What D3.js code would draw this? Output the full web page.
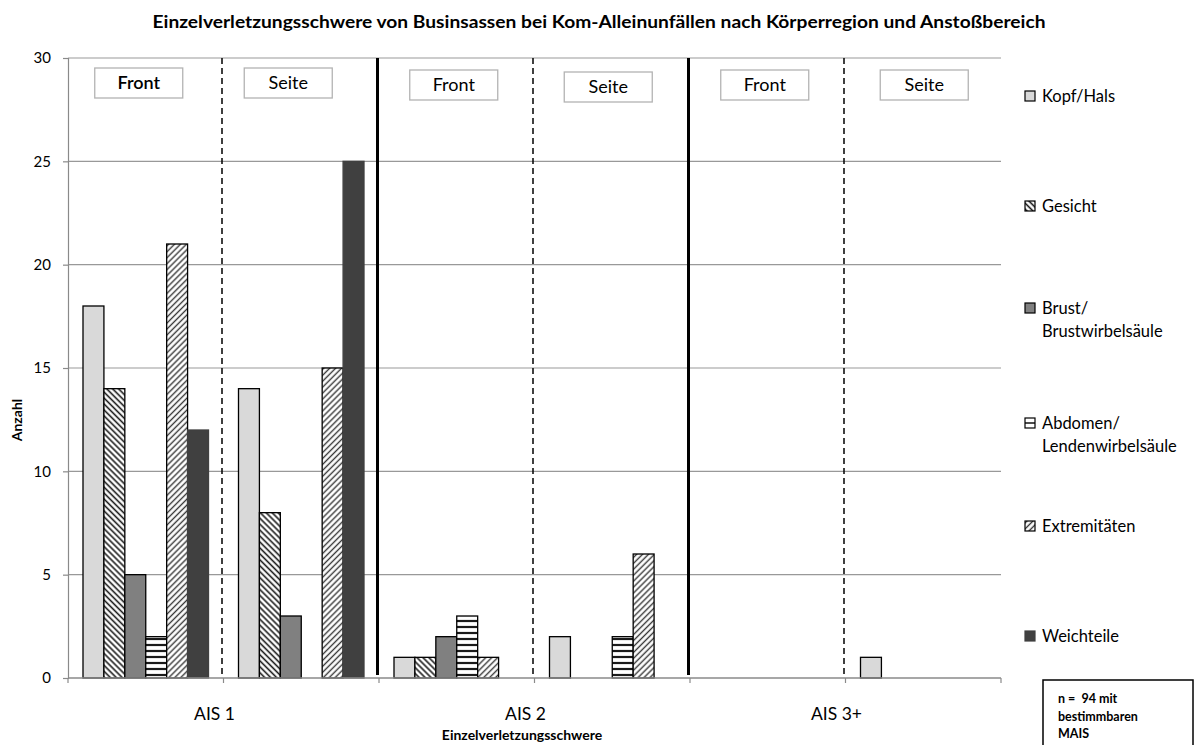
<!DOCTYPE html>
<html>
<head>
<meta charset="utf-8">
<script src="https://cdn.jsdelivr.net/npm/d3@7"></script>
<style>
  html, body { margin: 0; padding: 0; background: #fff; }
  svg { display: block; font-family: Lato, "Open Sans", "Liberation Sans", sans-serif; }
</style>
</head>
<body>
<svg id="chart" width="1198" height="745"></svg>
<script>
// Severity groups and impact areas (each group is split into Front / Seite)
const groups = ["AIS 1", "AIS 2", "AIS 3+"];
const impacts = ["Front", "Seite"];
const categories = ["AIS 1 Front", "AIS 1 Seite", "AIS 2 Front", "AIS 2 Seite", "AIS 3+ Front", "AIS 3+ Seite"];

// Body regions (series)
const seriesNames = ["Kopf/Hals", "Gesicht", "Brust/\nBrustwirbelsäule", "Abdomen/\nLendenwirbelsäule", "Extremitäten", "Weichteile"];

// Counts per category, in the order of `categories`
const kopfHals      = [18, 14, 1, 2, 0, 1];
const gesicht       = [14,  8, 1, 0, 0, 0];
const brust         = [ 5,  3, 2, 0, 0, 0];
const abdomen       = [ 2,  0, 3, 2, 0, 0];
const extremitaeten = [21, 15, 1, 6, 0, 0];
const weichteile    = [12, 25, 0, 0, 0, 0];

const yTicks = [0, 5, 10, 15, 20, 25, 30];

const title = "Einzelverletzungsschwere von Businsassen bei Kom-Alleinunfällen nach Körperregion und Anstoßbereich";
const yTitle = "Anzahl";
const xTitle = "Einzelverletzungsschwere";
const noteLines = ["n =  94 mit", "bestimmbaren", "MAIS"];

const seriesValues = [kopfHals, gesicht, brust, abdomen, extremitaeten, weichteile];

// ---- layout ----
const svg = d3.select("#chart");
const plot = { left: 68, right: 1001, top: 58, bottom: 678 };

const x = d3.scaleBand().domain(categories).range([plot.left, plot.right]);
const bw = x.bandwidth();
const xs = d3.scaleBand().domain(d3.range(seriesNames.length)).range([15, bw - 15]);
const y = d3.scaleLinear().domain([0, 30]).range([plot.bottom, plot.top]);

// ---- patterns ----
const defs = svg.append("defs");
function stripes(id, angle, size, color, width, bg) {
  const p = defs.append("pattern").attr("id", id)
    .attr("patternUnits", "userSpaceOnUse")
    .attr("width", size).attr("height", size)
    .attr("patternTransform", `rotate(${angle})`);
  p.append("rect").attr("width", size).attr("height", size).attr("fill", bg);
  p.append("line").attr("x1", size / 2).attr("x2", size / 2).attr("y1", 0).attr("y2", size)
    .attr("stroke", color).attr("stroke-width", width);
}
stripes("pat-gesicht", -45, 4.2, "#1a1a1a", 1.6, "#fff");
stripes("pat-extrem", 45, 4.2, "#3a3a3a", 1.4, "#fff");
stripes("pat-abdomen", 90, 6, "#1a1a1a", 2.2, "#fff");

const fills = ["#d9d9d9", "url(#pat-gesicht)", "#808080", "url(#pat-abdomen)", "url(#pat-extrem)", "#404040"];
const strokes = ["#000", "#000", "#000", "#000", "#000", "#404040"];

// ---- title ----
svg.append("text")
  .attr("x", 599).attr("y", 28)
  .attr("text-anchor", "middle")
  .attr("font-size", 16.5).attr("font-weight", "bold")
  .attr("textLength", 893).attr("lengthAdjust", "spacingAndGlyphs")
  .text(title);

// ---- gridlines ----
svg.append("g").selectAll("line").data(yTicks.filter(d => d > 0)).join("line")
  .attr("x1", plot.left).attr("x2", plot.right)
  .attr("y1", d => y(d)).attr("y2", d => y(d))
  .attr("stroke", "#999").attr("stroke-width", 1.2);

// ---- y axis ----
const yAxis = svg.append("g").attr("transform", `translate(${plot.left},0)`)
  .call(d3.axisLeft(y).tickValues(yTicks).tickSize(5).tickPadding(12));
yAxis.select(".domain").attr("stroke", "#8a8a8a").attr("stroke-width", 1.2);
yAxis.selectAll(".tick line").attr("stroke", "#8a8a8a").attr("stroke-width", 1.2);
yAxis.selectAll(".tick text").attr("font-size", 15).attr("fill", "#000")
  .attr("font-family", "Lato, 'Open Sans', sans-serif");

svg.append("text")
  .attr("transform", `translate(22,420) rotate(-90)`)
  .attr("text-anchor", "middle")
  .attr("font-size", 14).attr("font-weight", "bold")
  .text(yTitle);

// ---- bars ----
const barData = [];
categories.forEach((c, ci) => {
  seriesValues.forEach((vals, si) => {
    if (vals[ci] > 0) barData.push({ cat: c, s: si, v: vals[ci] });
  });
});
svg.append("g").selectAll("rect").data(barData).join("rect")
  .attr("x", d => x(d.cat) + xs(d.s))
  .attr("width", xs.bandwidth())
  .attr("y", d => y(d.v))
  .attr("height", d => y(0) - y(d.v))
  .attr("fill", d => fills[d.s])
  .attr("stroke", d => strokes[d.s])
  .attr("stroke-width", 1.3);

// ---- x axis ----
const xAxisG = svg.append("g");
xAxisG.append("line")
  .attr("x1", plot.left).attr("x2", plot.right)
  .attr("y1", y(0)).attr("y2", y(0))
  .attr("stroke", "#8a8a8a").attr("stroke-width", 1.4);
const boundaries = categories.map(c => x(c)).concat([x.range()[1]]);
xAxisG.selectAll("line.tick").data(boundaries).join("line").attr("class", "tick")
  .attr("x1", d => d).attr("x2", d => d)
  .attr("y1", y(0)).attr("y2", y(0) + 5)
  .attr("stroke", "#8a8a8a").attr("stroke-width", 1.2);

xAxisG.selectAll("text.grp").data(groups).join("text").attr("class", "grp")
  .attr("x", g => x(g + " Seite") - 9)
  .attr("y", 720)
  .attr("text-anchor", "middle")
  .attr("font-size", 17.5)
  .text(d => d);

svg.append("text")
  .attr("x", 522).attr("y", 740)
  .attr("text-anchor", "middle")
  .attr("font-size", 14).attr("font-weight", "bold")
  .text(xTitle);

// ---- separators: dashed between Front/Seite, solid between severity groups ----
svg.append("g").selectAll("line").data(groups).join("line")
  .attr("x1", g => x(g + " Seite") - 1.5).attr("x2", g => x(g + " Seite") - 1.5)
  .attr("y1", plot.top).attr("y2", plot.bottom)
  .attr("stroke", "#000").attr("stroke-width", 1.5)
  .attr("stroke-dasharray", "6,4");
svg.append("g").selectAll("line").data(groups.slice(1)).join("line")
  .attr("x1", g => x(g + " Front") - 1.5).attr("x2", g => x(g + " Front") - 1.5)
  .attr("y1", plot.top).attr("y2", plot.bottom - 3)
  .attr("stroke", "#000").attr("stroke-width", 3);

// ---- Front / Seite label boxes ----
const boxDx = [-7, -13, -3, -4, -3, 1];
const boxDy = [0, 0, 2, 4, 2, 2];
const boxG = svg.append("g").selectAll("g").data(categories).join("g")
  .attr("transform", (c, i) => `translate(${x(c) + bw / 2 + boxDx[i]},${83 + boxDy[i]})`);
boxG.append("rect")
  .attr("x", -44).attr("y", -15).attr("width", 88).attr("height", 30)
  .attr("fill", "#fff").attr("stroke", "#b3b3b3").attr("stroke-width", 1.3);
boxG.append("text")
  .attr("text-anchor", "middle").attr("y", 6)
  .attr("font-size", 18)
  .attr("font-weight", (c, i) => i === 0 ? 600 : "normal")
  .text((c, i) => impacts[i % 2]);

// ---- legend ----
const legendY = [96, 206, 308, 423, 526, 636];
const leg = svg.append("g").selectAll("g").data(seriesNames).join("g")
  .attr("transform", (d, i) => `translate(1025,${legendY[i]})`);
leg.append("rect")
  .attr("x", 0).attr("y", -5).attr("width", 10).attr("height", 10)
  .attr("fill", (d, i) => i === 3 ? "#fff" : fills[i])
  .attr("stroke", (d, i) => strokes[i]).attr("stroke-width", 1.2);
// the horizontal-stripe swatch shows a single stripe at this size
leg.filter((d, i) => i === 3).append("line")
  .attr("x1", 0).attr("x2", 10).attr("y1", 0).attr("y2", 0)
  .attr("stroke", "#000").attr("stroke-width", 1.4);
leg.each(function (d) {
  const t = d3.select(this).append("text").attr("x", 17).attr("y", 6).attr("font-size", 16.5);
  d.split("\n").forEach((line, k) => {
    t.append("tspan").attr("x", 17).attr("dy", k === 0 ? 0 : 23).text(line);
  });
});

// ---- sample size note ----
const note = svg.append("g").attr("transform", "translate(1043,680)");
note.append("rect").attr("x", 0).attr("y", 0).attr("width", 150).attr("height", 80)
  .attr("fill", "#fff").attr("stroke", "#000").attr("stroke-width", 1.5);
note.selectAll("text").data(noteLines).join("text")
  .attr("x", 15).attr("y", (d, i) => 23 + i * 17.5)
  .attr("font-size", 12.5).attr("font-weight", "bold")
  .attr("xml:space", "preserve")
  .text(d => d);
</script>
</body>
</html>
